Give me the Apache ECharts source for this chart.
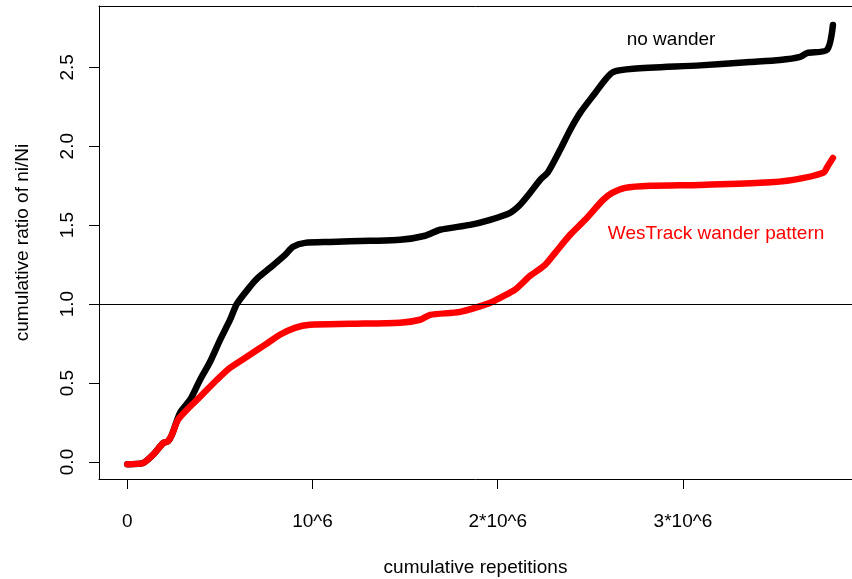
<!DOCTYPE html>
<html>
<head>
<meta charset="utf-8">
<script src="https://cdn.jsdelivr.net/npm/echarts@6/dist/echarts.min.js"></script>
<style>
html,body{margin:0;padding:0;background:#fff;}
#c{width:852px;height:579px;}
</style>
</head>
<body>
<div id="c"></div>
<script>
// x values in millions of cumulative repetitions
const noWanderX = [0,0.085,0.139,0.193,0.22,0.241,0.285,0.339,0.393,0.447,0.501,0.555,0.592,0.662,0.706,0.771,0.852,0.895,0.96,1.095,1.311,1.473,1.608,1.689,1.851,1.959,2.067,2.121,2.175,2.229,2.272,2.337,2.391,2.445,2.526,2.58,2.624,2.732,3.094,3.362,3.524,3.633,3.67,3.778,3.81];
const noWanderY = [-0.014,-0.006,0.046,0.119,0.132,0.173,0.312,0.394,0.521,0.635,0.774,0.901,1.002,1.11,1.167,1.23,1.312,1.363,1.388,1.394,1.401,1.407,1.433,1.471,1.502,1.534,1.578,1.629,1.705,1.787,1.837,1.977,2.103,2.211,2.337,2.42,2.47,2.49,2.512,2.533,2.546,2.566,2.59,2.61,2.768];
const wesTrackX = [0,0.085,0.139,0.193,0.22,0.241,0.274,0.322,0.393,0.484,0.555,0.662,0.743,0.824,0.905,0.986,1.202,1.473,1.581,1.635,1.797,1.959,2.013,2.094,2.175,2.256,2.31,2.391,2.472,2.569,2.618,2.688,2.823,3.094,3.418,3.596,3.758,3.78,3.81];
const wesTrackY = [-0.014,-0.006,0.046,0.119,0.132,0.173,0.268,0.331,0.413,0.521,0.597,0.679,0.742,0.806,0.85,0.869,0.875,0.882,0.901,0.932,0.951,1.008,1.04,1.091,1.179,1.249,1.325,1.439,1.534,1.66,1.704,1.736,1.749,1.755,1.768,1.787,1.832,1.87,1.926];
const xTickValues = [0,1,2,3];
const xTickLabels = ['0','10^6','2*10^6','3*10^6'];
const yTickValues = [0,0.5,1,1.5,2,2.5];
const refLine = 1.0;
const annotations = [
  {text: 'no wander', x: 2.936, y: 2.673, color: '#000000'},
  {text: 'WesTrack wander pattern', x: 3.179, y: 1.445, color: '#ff0000'}
];

const zip = (xs, ys) => xs.map((x, i) => [x, ys[i]]);
const FONT = 'Liberation Sans, Arial, sans-serif';
const X_MIN = -0.1528, X_MAX = 3.913, Y_MIN = -0.1076, Y_MAX = 2.888;

const chart = echarts.init(document.getElementById('c'), null, {renderer: 'canvas'});
chart.setOption({
  animation: false,
  backgroundColor: '#ffffff',
  grid: {left: 99, top: 6, right: 0, bottom: 100, show: false, containLabel: false, outerBoundsMode: 'none'},
  xAxis: [{
    type: 'value', min: X_MIN, max: X_MAX, position: 'bottom',
    name: 'cumulative repetitions', nameLocation: 'middle', nameGap: 79,
    nameTextStyle: {fontFamily: FONT, fontSize: 19, color: '#000'},
    axisLine: {show: true, onZero: false, lineStyle: {color: '#000', width: 1}},
    axisTick: {show: true, inside: false, length: 10, customValues: xTickValues, lineStyle: {color: '#000', width: 1}},
    axisLabel: {show: true, margin: 33, customValues: xTickValues, fontFamily: FONT, fontSize: 19, color: '#000',
      formatter: v => { const i = xTickValues.indexOf(v); return i >= 0 ? xTickLabels[i] : ''; }},
    splitLine: {show: false}
  }, {
    type: 'value', min: X_MIN, max: X_MAX, position: 'top',
    axisLine: {show: true, onZero: false, lineStyle: {color: '#000', width: 1}},
    axisTick: {show: false}, axisLabel: {show: false}, splitLine: {show: false}
  }],
  yAxis: {
    type: 'value', min: Y_MIN, max: Y_MAX,
    name: 'cumulative ratio of ni/Ni', nameLocation: 'middle', nameGap: 67, nameRotate: 90,
    nameTextStyle: {fontFamily: FONT, fontSize: 19, color: '#000'},
    axisLine: {show: true, onZero: false, lineStyle: {color: '#000', width: 1}},
    axisTick: {show: true, inside: false, length: 10, customValues: yTickValues, lineStyle: {color: '#000', width: 1}},
    axisLabel: {show: true, margin: 22, rotate: 90, customValues: yTickValues, fontFamily: FONT, fontSize: 19, color: '#000',
      formatter: v => v.toFixed(1)},
    splitLine: {show: false}
  },
  series: [
    {
      name: 'no wander', type: 'line', data: zip(noWanderX, noWanderY),
      showSymbol: false, smooth: 0.25, z: 2,
      lineStyle: {color: '#000', width: 6.5, cap: 'round', join: 'round'},
      markLine: {
        silent: true, symbol: 'none', label: {show: false},
        lineStyle: {color: '#000', width: 1, type: 'solid'},
        data: [{yAxis: refLine}]
      }
    },
    {
      name: 'WesTrack wander pattern', type: 'line', data: zip(wesTrackX, wesTrackY),
      showSymbol: false, smooth: 0.25, z: 3,
      lineStyle: {color: '#ff0000', width: 6.5, cap: 'round', join: 'round'}
    }
  ]
});
chart.setOption({
  graphic: annotations.map(a => {
    const p = chart.convertToPixel({xAxisIndex: 0, yAxisIndex: 0}, [a.x, a.y]);
    return {type: 'text', x: p[0], y: p[1], z: 10,
      style: {text: a.text, fill: a.color, font: '19px ' + FONT, align: 'center', verticalAlign: 'middle'}};
  })
});
</script>
</body>
</html>
